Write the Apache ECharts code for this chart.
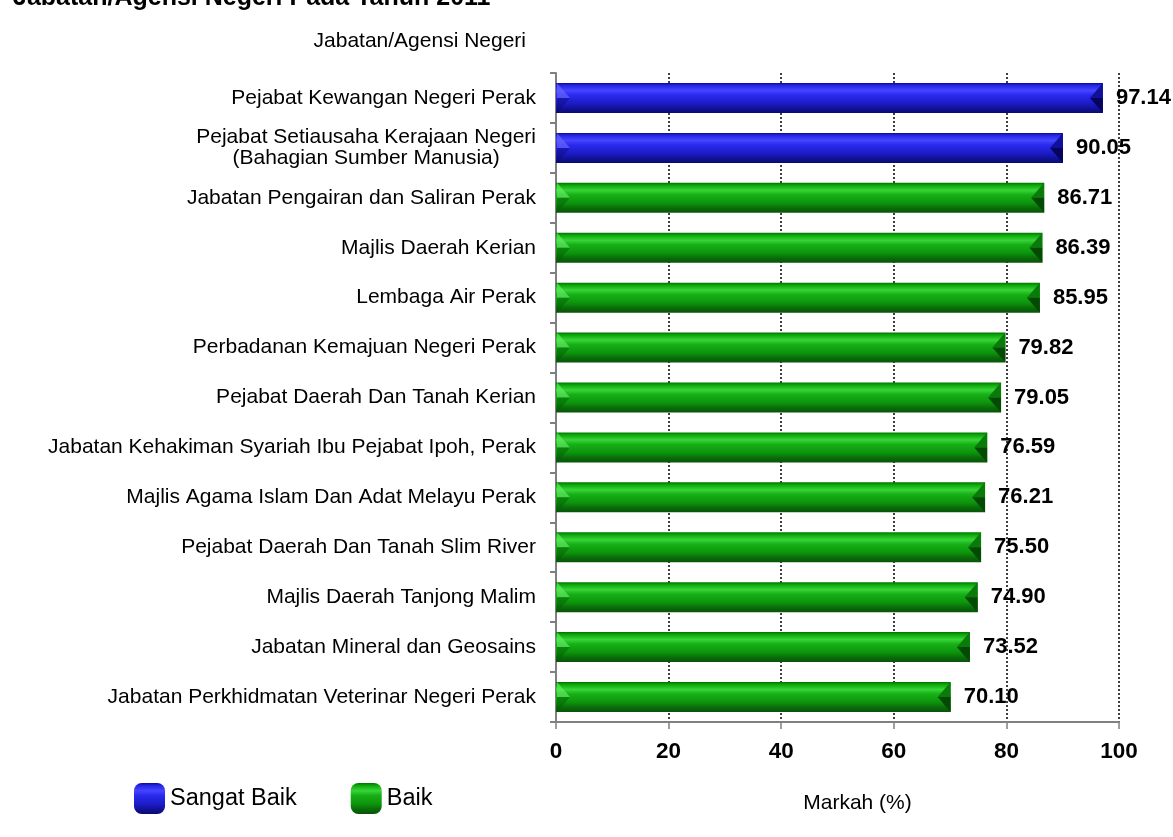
<!DOCTYPE html>
<html>
<head>
<meta charset="utf-8">
<script src="https://cdn.jsdelivr.net/npm/echarts@6/dist/echarts.min.js"></script>
<style>
html,body{margin:0;padding:0;background:#fff;}
#c{width:1173px;height:837px;}
</style>
</head>
<body>
<div id="c"></div>
<script>
const categories = [
  'Pejabat Kewangan Negeri Perak',
  'Pejabat Setiausaha Kerajaan Negeri\n(Bahagian Sumber Manusia)',
  'Jabatan Pengairan dan Saliran Perak',
  'Majlis Daerah Kerian',
  'Lembaga Air Perak',
  'Perbadanan Kemajuan Negeri Perak',
  'Pejabat Daerah Dan Tanah Kerian',
  'Jabatan Kehakiman Syariah Ibu Pejabat Ipoh, Perak',
  'Majlis Agama Islam Dan Adat Melayu Perak',
  'Pejabat Daerah Dan Tanah Slim River',
  'Majlis Daerah Tanjong Malim',
  'Jabatan Mineral dan Geosains',
  'Jabatan Perkhidmatan Veterinar Negeri Perak'
];
const scores = [97.14, 90.05, 86.71, 86.39, 85.95, 79.82, 79.05, 76.59, 76.21, 75.50, 74.90, 73.52, 70.10];
const ratings = ['Sangat Baik','Sangat Baik','Baik','Baik','Baik','Baik','Baik','Baik','Baik','Baik','Baik','Baik','Baik'];
const seriesNames = ['Sangat Baik', 'Baik'];
const xTicks = [0, 20, 40, 60, 80, 100];

const FONT = '"Liberation Sans", Arial, sans-serif';

function grad(stops) {
  return new echarts.graphic.LinearGradient(0, 0, 0, 1, stops.map(c => ({offset: c[0], color: c[1]})));
}
const palette = {
  'Sangat Baik': {
    fill: grad([[0,'#0a0a96'],[0.08,'#2424e4'],[0.25,'#4646ff'],[0.4,'#2a2af0'],[0.68,'#1c1cc6'],[0.84,'#12129a'],[1,'#0a0a70']]),
    light: 'rgba(110,110,255,0.6)', lightLow: 'rgba(10,10,120,0.45)',
    darkUp: '#10109a', darkLow: '#050560'
  },
  'Baik': {
    fill: grad([[0,'#007400'],[0.08,'#0aa60a'],[0.25,'#38d438'],[0.4,'#16b016'],[0.68,'#0c940c'],[0.84,'#0a6c0a'],[1,'#075407']]),
    light: 'rgba(110,240,110,0.6)', lightLow: 'rgba(5,90,5,0.45)',
    darkUp: '#0a7a0a', darkLow: '#044a04'
  }
};

const barSeries = seriesNames.map(name => ({
  name: name,
  type: 'bar',
  barWidth: 30,
  barGap: '-100%',
  itemStyle: {color: palette[name].fill},
  data: scores.map((v, i) => ratings[i] === name ? v : '-'),
  label: {
    show: true,
    position: 'right',
    distance: 13,
    formatter: p => p.value.toFixed(2),
    fontFamily: FONT,
    fontWeight: 'bold',
    fontSize: 22,
    color: '#000'
  },
  z: 2
}));

// bevelled ends drawn on top of the bars, positioned by the axes
const bevelSeries = {
  name: 'bevel',
  type: 'custom',
  silent: true,
  z: 3,
  encode: {x: 0, y: 1},
  data: scores.map((v, i) => [v, i]),
  renderItem: function (params, api) {
    const v = api.value(0), idx = api.value(1);
    const p0 = api.coord([0, idx]);
    const p1 = api.coord([v, idx]);
    const h = 30, b = 13;
    const x0 = p0[0] + 1, x1 = p1[0], ym = p0[1], yT = ym - h / 2, yB = ym + h / 2;
    const pal = palette[ratings[idx]];
    return {
      type: 'group',
      children: [
        {type: 'polygon', shape: {points: [[x0, yT], [x0 + b, ym], [x0, ym]]}, style: {fill: pal.light}},
        {type: 'polygon', shape: {points: [[x0, ym], [x0 + b, ym], [x0, yB]]}, style: {fill: pal.lightLow}},
        {type: 'polygon', shape: {points: [[x1, yT], [x1 - b, ym], [x1, ym]]}, style: {fill: pal.darkUp}},
        {type: 'polygon', shape: {points: [[x1, ym], [x1 - b, ym], [x1, yB]]}, style: {fill: pal.darkLow}}
      ]
    };
  }
};

const chart = echarts.init(document.getElementById('c'));
chart.setOption({
  animation: false,
  backgroundColor: '#fff',
  title: {
    text: 'Jabatan/Agensi Negeri Pada Tahun 2011',
    left: 8,
    top: -19,
    textStyle: {fontFamily: FONT, fontWeight: 'bold', fontSize: 25, color: '#000'}
  },
  legend: {
    data: seriesNames,
    left: 129,
    top: 778,
    icon: 'roundRect',
    itemWidth: 31,
    itemHeight: 31,
    itemGap: 54,
    textStyle: {fontFamily: FONT, fontSize: 23.5, color: '#000', padding: [8, 0, 0, 0]}
  },
  grid: {left: 556, right: 54, top: 73, bottom: 115, containLabel: false},
  xAxis: {
    type: 'value',
    min: 0,
    max: 100,
    interval: 20,
    name: 'Markah (%)',
    nameLocation: 'middle',
    nameGap: 71,
    nameTextStyle: {fontFamily: FONT, fontSize: 21, color: '#000', padding: [0, 0, 0, 40]},
    axisLine: {show: true, lineStyle: {color: '#808080', width: 2}},
    axisTick: {show: true, length: 7, lineStyle: {color: '#808080', width: 1.5}},
    axisLabel: {
      fontFamily: FONT, fontWeight: 'bold', fontSize: 22.5, color: '#000', margin: 18,
      formatter: v => xTicks.includes(v) ? String(v) : ''
    },
    splitLine: {show: true, lineStyle: {color: '#000', type: [2, 2], width: 1.5}}
  },
  yAxis: {
    type: 'category',
    inverse: true,
    data: categories,
    name: 'Jabatan/Agensi Negeri',
    nameLocation: 'start',
    nameGap: 21,
    nameTextStyle: {fontFamily: FONT, fontSize: 21, color: '#000', align: 'right', padding: [0, 30, 0, 0]},
    axisLine: {show: true, lineStyle: {color: '#808080', width: 2}},
    axisTick: {show: true, length: 6, lineStyle: {color: '#808080', width: 2}},
    axisLabel: {
      fontFamily: FONT, fontSize: 21, color: '#000', margin: 20, lineHeight: 21,
      formatter: v => v.indexOf('\n') >= 0 ? v.split('\n').map(s => '{c|' + s + '}').join('\n') : v,
      rich: {c: {align: 'center', fontFamily: FONT, fontSize: 21, color: '#000', lineHeight: 21}}
    },
    splitLine: {show: false}
  },
  series: barSeries.concat([bevelSeries])
});
</script>
</body>
</html>
